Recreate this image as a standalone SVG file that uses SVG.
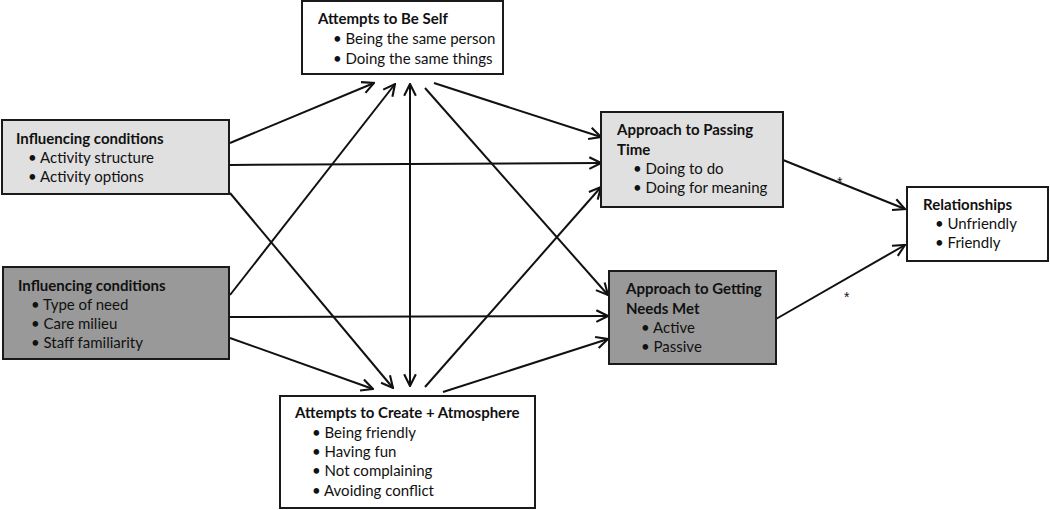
<svg xmlns="http://www.w3.org/2000/svg" width="1050" height="510" viewBox="0 0 1050 510">
<defs>
<style>
.box{stroke:#1a1a1a;stroke-width:2}
.w{fill:#ffffff}.l{fill:#e0e0e0}.d{fill:#999999}
text{font-family:Lato,"Liberation Sans",sans-serif;font-size:15px;fill:#111}
.t{font-weight:bold}
.c line{stroke:#111;stroke-width:2;fill:none}
.s{font-family:"Liberation Sans",sans-serif;font-size:14px}
</style>
<marker id="a" viewBox="0 0 12 12" refX="11" refY="6" markerWidth="14" markerHeight="14" markerUnits="userSpaceOnUse" orient="auto-start-reverse">
<path d="M1,1 L11,6 L1,11" fill="none" stroke="#111" stroke-width="1.8"/>
</marker>
</defs>
<rect width="1050" height="510" fill="#fff"/>
<g class="c" id="connectors">
<line x1="230" y1="143" x2="374" y2="83" marker-end="url(#a)"/>
<line x1="230" y1="165" x2="601" y2="163" marker-end="url(#a)"/>
<line x1="230" y1="193" x2="393" y2="388" marker-end="url(#a)"/>
<line x1="230" y1="295" x2="395" y2="84" marker-end="url(#a)"/>
<line x1="230" y1="317" x2="608" y2="316" marker-end="url(#a)"/>
<line x1="230" y1="338" x2="373" y2="389" marker-end="url(#a)"/>
<line x1="410" y1="84" x2="410" y2="386" marker-start="url(#a)" marker-end="url(#a)"/>
<line x1="434" y1="83" x2="601" y2="137" marker-end="url(#a)"/>
<line x1="425" y1="88" x2="608" y2="295" marker-end="url(#a)"/>
<line x1="425" y1="387" x2="601" y2="187" marker-end="url(#a)"/>
<line x1="443" y1="392" x2="608" y2="339" marker-end="url(#a)"/>
<line x1="783" y1="160" x2="905" y2="209" marker-end="url(#a)"/>
<line x1="776" y1="319" x2="905" y2="245" marker-end="url(#a)"/>
<text class="s" x="837" y="187">*</text>
<text class="s" x="844" y="302">*</text>
</g>
<g id="self">
<rect class="box w" x="302" y="1" width="201" height="73"/>
<text class="t" x="318" y="24">Attempts to Be Self</text>
<text x="333" y="44">• Being the same person</text>
<text x="333" y="64">• Doing the same things</text>
</g>
<g id="infl1">
<rect class="box l" x="2" y="120" width="227" height="74"/>
<text class="t" x="16" y="144">Influencing conditions</text>
<text x="28" y="163">• Activity structure</text>
<text x="28" y="182">• Activity options</text>
</g>
<g id="infl2">
<rect class="box d" x="3" y="267" width="226" height="92"/>
<text class="t" x="18" y="291">Influencing conditions</text>
<text x="31" y="310">• Type of need</text>
<text x="31" y="329">• Care milieu</text>
<text x="31" y="348">• Staff familiarity</text>
</g>
<g id="passing">
<rect class="box l" x="601" y="112" width="182" height="95"/>
<text class="t" x="617" y="135">Approach to Passing</text>
<text class="t" x="617" y="155">Time</text>
<text x="633" y="174">• Doing to do</text>
<text x="633" y="193">• Doing for meaning</text>
</g>
<g id="needs">
<rect class="box d" x="609" y="271" width="167" height="93"/>
<text class="t" x="626" y="294">Approach to Getting</text>
<text class="t" x="626" y="314">Needs Met</text>
<text x="641" y="333">• Active</text>
<text x="641" y="352">• Passive</text>
</g>
<g id="create">
<rect class="box w" x="280" y="396" width="255" height="112"/>
<text class="t" x="295" y="418">Attempts to Create + Atmosphere</text>
<text x="312" y="438">• Being friendly</text>
<text x="312" y="457">• Having fun</text>
<text x="312" y="476">• Not complaining</text>
<text x="312" y="496">• Avoiding conflict</text>
</g>
<g id="relationships">
<rect class="box w" x="907" y="187" width="141" height="74"/>
<text class="t" x="923" y="210">Relationships</text>
<text x="935" y="229">• Unfriendly</text>
<text x="935" y="248">• Friendly</text>
</g>
</svg>
